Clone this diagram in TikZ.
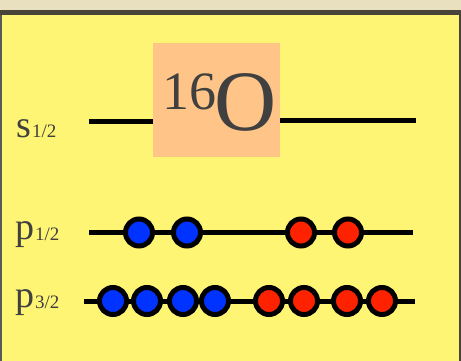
\documentclass[tikz,border=0pt]{standalone}
\usepackage{fontspec}
\setmainfont{Liberation Serif}
\definecolor{bgyellow}{HTML}{FFF574}
\definecolor{topbeige}{HTML}{E8E0BE}
\definecolor{darkband}{HTML}{48443A}
\definecolor{boxorange}{HTML}{FFC487}
\definecolor{txtgray}{HTML}{404040}
\definecolor{nblue}{HTML}{0033FF}
\definecolor{nred}{HTML}{FF2200}
\begin{document}
\begin{tikzpicture}[x=1pt,y=-1pt,
  level/.style={line width=5pt,black},
  nucl/.style={circle,draw=black,line width=5pt,minimum size=27pt,inner sep=0pt},
  proton/.style={nucl,fill=nred},
  neutron/.style={nucl,fill=nblue},
  lab/.style={anchor=base west,inner sep=0pt,text=txtgray,font=\fontsize{38}{38}\selectfont},
  sub/.style={anchor=base west,inner sep=0pt,text=txtgray,font=\fontsize{19}{19}\selectfont}]
\useasboundingbox (0,0) rectangle (461,361);
% background
\fill[topbeige] (0,0) rectangle (461,10);
\fill[darkband] (0,10) rectangle (461,15);
\fill[bgyellow] (0,15) rectangle (461,361);
\fill[gray!70!black] (0,15) rectangle (1.5,361);
\fill[darkband] (459,15) rectangle (461,361);
% orange box with 16O
\node[fill=boxorange,minimum width=127pt,minimum height=114pt,inner sep=0pt,anchor=north west] (box) at (153,43) {};
\node[anchor=base west,inner sep=0pt,text=txtgray,font=\fontsize{54}{54}\selectfont] (sixteen) at (162,110) {16};
\node[anchor=base west,inner sep=0pt,text=txtgray,font=\fontsize{86}{86}\selectfont] (oxy) at (214.5,131) {O};
% s1/2 level
\coordinate (s0) at (89,122);
\coordinate (s1) at (416,121);
\draw[level] (s0) -- (box.west |- s0);
\draw[level] (box.east |- s1) -- (s1);
\node[lab] (slab) at (16,137) {s};
\node[sub] (ssub) at (32,138) {1/2};
% p1/2 level
\coordinate (pa0) at (89,232.5);
\coordinate (pa1) at (413,232.5);
\draw[level] (pa0) -- (pa1);
\node[neutron] (n1) at (139,232.5) {};
\node[neutron] (n2) at (187,232.5) {};
\node[proton] (p1) at (301,232.5) {};
\node[proton] (p2) at (348,232.5) {};
\node[lab] (palab) at (15,239) {p};
\node[sub] (pasub) at (35,240) {1/2};
% p3/2 level
\coordinate (pb0) at (84,301);
\coordinate (pb1) at (415,301);
\draw[level] (pb0) -- (pb1);
\node[neutron] (n3) at (113,301) {};
\node[neutron] (n4) at (147,301) {};
\node[neutron] (n5) at (183,301) {};
\node[neutron] (n6) at (215,301) {};
\node[proton] (p3) at (269,301) {};
\node[proton] (p4) at (304,301) {};
\node[proton] (p5) at (347,301) {};
\node[proton] (p6) at (382,301) {};
\node[lab] (pblab) at (15,307) {p};
\node[sub] (pbsub) at (35,308) {3/2};
\end{tikzpicture}
\end{document}
